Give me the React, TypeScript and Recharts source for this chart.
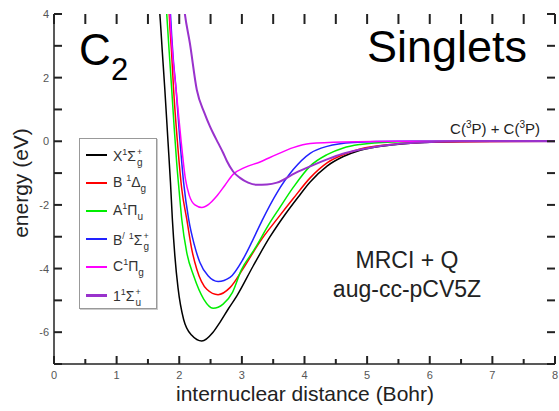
import React from "react";
import { LineChart, Line, XAxis, YAxis, Legend } from "recharts";

const FONT = '"Liberation Sans", Arial, Helvetica, sans-serif';

// potential energy curves, r in bohr, E in eV
const X_R = [1.66, 1.69, 1.73, 1.77, 1.82, 1.86, 1.89, 1.93, 1.98, 2.07, 2.2, 2.36, 2.54, 2.65, 2.78, 2.92, 3.18, 3.45, 3.69, 3.9, 4.09, 4.36, 4.62, 4.89, 5.42, 6.0, 7.0, 8.0];
const X_E = [4.6, 4.0, 2.8, 1.62, 0, -1.3, -2.45, -3.6, -4.6, -5.6, -6.1, -6.28, -6.0, -5.69, -5.28, -4.86, -3.92, -3.0, -2.3, -1.75, -1.28, -0.78, -0.48, -0.28, -0.11, -0.03, 0, 0];

const B_R = [1.83, 1.84, 1.88, 1.91, 1.97, 2.04, 2.12, 2.2, 2.28, 2.44, 2.62, 2.81, 3.02, 3.29, 3.58, 3.82, 4.09, 4.36, 4.62, 4.89, 5.42, 6.0, 8.0];
const B_E = [4.5, 4.0, 2.7, 1.62, 0, -1.5, -2.45, -3.4, -4.02, -4.65, -4.82, -4.6, -4.0, -3.15, -2.4, -1.8, -1.15, -0.68, -0.42, -0.24, -0.09, -0.02, 0];

const A_R = [1.78, 1.8, 1.84, 1.88, 1.92, 1.96, 2.0, 2.04, 2.12, 2.23, 2.39, 2.54, 2.7, 2.85, 2.99, 3.2, 3.45, 3.6, 3.82, 4.09, 4.36, 4.62, 4.89, 5.4, 6.0, 8.0];
const A_E = [4.6, 4.0, 2.8, 1.62, 0.4, -0.7, -1.6, -2.45, -3.5, -4.23, -4.96, -5.25, -5.12, -4.75, -4.05, -3.4, -2.55, -2.1, -1.45, -0.78, -0.42, -0.21, -0.1, -0.02, 0, 0];

const BP_R = [1.85, 1.86, 1.9, 1.95, 2.0, 2.07, 2.15, 2.24, 2.33, 2.46, 2.62, 2.81, 3.02, 3.17, 3.32, 3.56, 3.82, 4.09, 4.36, 4.78, 5.5, 8.0];
const BP_E = [4.4, 4.0, 2.7, 1.62, 0.3, -1.3, -2.45, -3.25, -3.81, -4.23, -4.41, -4.28, -3.7, -3.12, -2.5, -1.62, -0.89, -0.38, -0.16, -0.04, 0, 0];

const C_R = [1.84, 1.85, 1.9, 1.95, 2.03, 2.1, 2.16, 2.25, 2.36, 2.47, 2.6, 2.73, 2.86, 3.05, 3.29, 3.55, 3.82, 4.09, 4.62, 5.5, 8.0];
const C_E = [4.4, 4.0, 2.6, 1.62, 0, -1.2, -1.7, -2.0, -2.08, -1.98, -1.72, -1.38, -1.04, -0.82, -0.65, -0.42, -0.2, -0.07, -0.02, 0, 0];

const SU_R = [2.06, 2.09, 2.17, 2.28, 2.4, 2.49, 2.54, 2.62, 2.7, 2.76, 2.86, 2.97, 3.1, 3.24, 3.4, 3.56, 3.85, 4.1, 4.36, 4.6, 4.89, 5.42, 5.95, 6.5, 8.0];
const SU_E = [4.5, 4.0, 3.08, 1.62, 0.9, 0.47, 0.26, -0.05, -0.36, -0.62, -0.95, -1.15, -1.3, -1.37, -1.36, -1.3, -1.0, -0.78, -0.57, -0.4, -0.26, -0.1, -0.03, 0, 0];

const X_MAJOR = [0, 1, 2, 3, 4, 5, 6, 7, 8];
const X_ALL = [0, 0.5, 1, 1.5, 2, 2.5, 3, 3.5, 4, 4.5, 5, 5.5, 6, 6.5, 7, 7.5, 8];
const Y_TICKS = [-7, -6, -5, -4, -3, -2, -1, 0, 1, 2, 3, 4];
const X_DOMAIN = [0, 8];
const Y_DOMAIN = [-7, 4];

const toPoints = (rs: number[], es: number[]) => rs.map((r, i) => ({ r, E: es[i] }));

// plot box inside the 559x411 chart (set by margins + axis sizes below)
const PLOT = { left: 54, right: 555, top: 14, bottom: 364 };
const px = (v: number) => PLOT.left + ((v - X_DOMAIN[0]) / (X_DOMAIN[1] - X_DOMAIN[0])) * (PLOT.right - PLOT.left);
const py = (v: number) => PLOT.bottom - ((v - Y_DOMAIN[0]) / (Y_DOMAIN[1] - Y_DOMAIN[0])) * (PLOT.bottom - PLOT.top);

const sup = (t: string) => <span style={{ fontSize: 9, verticalAlign: 6 }}>{t}</span>;
const sub = (t: string) => <span style={{ fontSize: 10, verticalAlign: -5 }}>{t}</span>;
const stack = (a: string, b: string) => (
  <span style={{ position: "relative", display: "inline-block", width: 8, height: 1 }}>
    <span style={{ position: "absolute", left: 1, top: -13, fontSize: 9 }}>{a}</span>
    <span style={{ position: "absolute", left: 1, top: -3, fontSize: 10 }}>{b}</span>
  </span>
);

const SERIES = [
  { key: "X", data: toPoints(X_R, X_E), color: "#000000", width: 1.5, label: <>X{sup("1")}Σ{stack("+", "g")}</> },
  { key: "B", data: toPoints(B_R, B_E), color: "#ff0000", width: 1.5, label: <>B {sup("1")}Δ{sub("g")}</> },
  { key: "A", data: toPoints(A_R, A_E), color: "#00ee00", width: 1.5, label: <>A{sup("1")}Π{sub("u")}</> },
  { key: "Bp", data: toPoints(BP_R, BP_E), color: "#2222ff", width: 1.5, label: <>B{sup("/")} {sup("1")}Σ{stack("+", "g")}</> },
  { key: "C", data: toPoints(C_R, C_E), color: "#ff00ff", width: 1.5, label: <>C{sup("1")}Π{sub("g")}</> },
  { key: "Su", data: toPoints(SU_R, SU_E), color: "#9932cc", width: 2, label: <>1{sup("1")}Σ{stack("+", "u")}</> },
];

const AX = "#222";

const BottomTick = ({ x, y, payload }: any) => (
  <text x={x} y={y + 15} textAnchor="middle" fill="#555" fontSize={11}>
    {payload.value}
  </text>
);

const LeftTick = ({ x, y, payload }: any) =>
  payload.value % 2 === 0 ? (
    <text x={x - 5} y={y + 4} textAnchor="end" fill="#555" fontSize={11}>
      {payload.value}
    </text>
  ) : (
    <g />
  );

function LegendBox() {
  return (
    <div
      style={{
        width: 78,
        height: 171,
        boxSizing: "border-box",
        border: "1px solid #999",
        boxShadow: "1px 1px 0 #ccc",
        background: "#fff",
        paddingTop: 2,
        fontFamily: FONT,
      }}
    >
      {SERIES.map((s) => (
        <div key={s.key} style={{ display: "flex", alignItems: "center", height: 28 }}>
          <div style={{ marginLeft: 6, width: 21, height: s.key === "Su" ? 3 : 1.5, background: s.color }} />
          <div style={{ marginLeft: 6, fontSize: 14, color: "#333", whiteSpace: "nowrap" }}>{s.label}</div>
        </div>
      ))}
    </div>
  );
}

export default function App() {
  return (
    <div style={{ position: "relative", width: 559, height: 411, background: "#fff" }}>
      <style>{"body{margin:0}"}</style>
      <LineChart
        width={559}
        height={411}
        margin={{ top: 14, right: 4, bottom: 0, left: 0 }}
        style={{ fontFamily: FONT }}
      >
        <XAxis
          dataKey="r"
          type="number"
          domain={X_DOMAIN}
          ticks={X_MAJOR}
          interval={0}
          height={47}
          tickSize={0}
          tickMargin={0}
          tickLine={false}
          tick={BottomTick}
          axisLine={{ stroke: AX, strokeWidth: 1.5 }}
        />
        <XAxis
          xAxisId="top"
          orientation="top"
          dataKey="r"
          type="number"
          domain={X_DOMAIN}
          height={0}
          tickLine={false}
          tick={false}
          axisLine={{ stroke: AX, strokeWidth: 1.5 }}
        />
        <YAxis
          type="number"
          domain={Y_DOMAIN}
          allowDataOverflow
          ticks={Y_TICKS}
          interval={0}
          width={54}
          tickSize={0}
          tickMargin={0}
          tickLine={false}
          tick={LeftTick}
          axisLine={{ stroke: AX, strokeWidth: 1.5 }}
        />
        <YAxis
          yAxisId="right"
          orientation="right"
          type="number"
          domain={Y_DOMAIN}
          width={0}
          tickLine={false}
          tick={false}
          axisLine={{ stroke: AX, strokeWidth: 1.5 }}
        />
        <Legend
          layout="vertical"
          align="center"
          verticalAlign="middle"
          content={() => <LegendBox />}
          wrapperStyle={{ left: 79, top: 138, width: 78 }}
        />
        {SERIES.map((s) => (
          <Line
            key={s.key}
            name={s.key}
            data={s.data}
            dataKey="E"
            type="monotone"
            stroke={s.color}
            strokeWidth={s.width}
            dot={false}
            isAnimationActive={false}
          />
        ))}
      </LineChart>
      <svg
        width={559}
        height={411}
        style={{ position: "absolute", left: 0, top: 0, pointerEvents: "none", fontFamily: FONT }}
      >
        {X_ALL.map((v) => (
          <line key={`b${v}`} x1={px(v)} x2={px(v)} y1={PLOT.bottom} y2={PLOT.bottom - (Number.isInteger(v) ? 8 : 5)} stroke={AX} strokeWidth={2} />
        ))}
        {X_ALL.map((v) => (
          <line key={`t${v}`} x1={px(v)} x2={px(v)} y1={PLOT.top} y2={PLOT.top + 10} stroke={AX} strokeWidth={2} />
        ))}
        {Y_TICKS.map((v) => (
          <line key={`l${v}`} x1={PLOT.left} x2={PLOT.left + 8} y1={py(v)} y2={py(v)} stroke={AX} strokeWidth={2} />
        ))}
        {Y_TICKS.map((v) => (
          <line key={`r${v}`} x1={PLOT.right} x2={PLOT.right - 8} y1={py(v)} y2={py(v)} stroke={AX} strokeWidth={2} />
        ))}
        <text x={79} y={65} fontSize={44} fill="#000">C</text>
        <text x={111} y={80} fontSize={31} fill="#000">2</text>
        <text x={367} y={62} fontSize={45} fill="#000">Singlets</text>
        <text x={540} y={134} fontSize={15} fill="#222" textAnchor="end">
          C(<tspan dy={-6} fontSize={10}>3</tspan>
          <tspan dy={6}>P) + C(</tspan>
          <tspan dy={-6} fontSize={10}>3</tspan>
          <tspan dy={6}>P)</tspan>
        </text>
        <text x={407} y={268} fontSize={23} fill="#222" textAnchor="middle">MRCI + Q</text>
        <text x={407} y={297} fontSize={23} fill="#222" textAnchor="middle">aug-cc-pCV5Z</text>
        <text x={305} y={401} fontSize={21} fill="#222" textAnchor="middle">internuclear distance (Bohr)</text>
        <text x={28} y={183} fontSize={21} fill="#222" textAnchor="middle" transform="rotate(-90 28 183)">
          energy (eV)
        </text>
      </svg>
    </div>
  );
}
